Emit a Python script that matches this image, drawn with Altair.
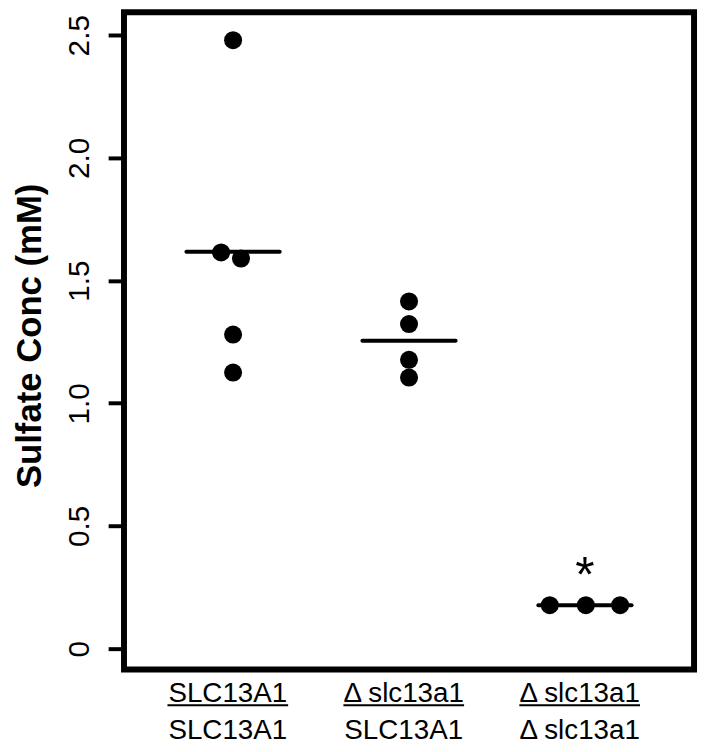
import altair as alt
import pandas as pd

# ---- data ----
groups = [1, 2, 3]
top_labels = ["SLC13A1", "Δ slc13a1", "Δ slc13a1"]
bottom_labels = ["SLC13A1", "SLC13A1", "Δ slc13a1"]

point_group = [1, 1, 1, 1, 1, 2, 2, 2, 2, 3, 3, 3]
point_value = [2.48, 1.615, 1.59, 1.28, 1.125, 1.415, 1.323, 1.177, 1.105, 0.177, 0.177, 0.177]
point_swarm = [0, -0.068, 0.045, 0, 0, 0, 0, 0, 0, -0.2, 0.005, 0.2]

star_group = [3]
star_value = [0.35]

y_ticks = [0, 0.5, 1.0, 1.5, 2.0, 2.5]

FONT = "Liberation Sans"

points_df = pd.DataFrame({"group": point_group, "value": point_value, "swarm": point_swarm})
labels_df = pd.DataFrame({"group": groups, "top": top_labels, "bottom": bottom_labels})
star_df = pd.DataFrame({"group": star_group, "value": star_value})

xscale = alt.Scale(domain=[0.38, 3.62], nice=False, zero=False)
yscale = alt.Scale(domain=[-0.085, 2.594], nice=False, zero=False)

yaxis = alt.Axis(
    values=y_ticks,
    labelExpr="datum.value == 0 ? '0' : format(datum.value, '.1f')",
    labelAngle=270, labelAlign="center", labelBaseline="alphabetic",
    labelFontSize=30, labelFont=FONT, labelColor="black", labelPadding=20,
    tickSize=16, tickWidth=4, tickColor="black",
    domain=False, grid=False,
    title="Sulfate Conc (mM)", titleFontSize=35, titleFontWeight="bold",
    titleFont=FONT, titleColor="black", titleAngle=270,
    titleX=-84, titleY=326, titleAlign="center", titleBaseline="alphabetic",
)

base_x = alt.X("xpos:Q", scale=xscale, axis=None)

points = alt.Chart(points_df).transform_calculate(
    xpos="datum.group + datum.swarm"
).mark_circle(size=330, color="black", opacity=1).encode(
    x=base_x,
    y=alt.Y("value:Q", scale=yscale, axis=yaxis),
)

means = alt.Chart(points_df).transform_aggregate(
    mean="mean(value)", groupby=["group"]
).transform_calculate(
    xl="datum.group - 0.265", xr="datum.group + 0.265"
).mark_rule(color="black", strokeWidth=4, strokeCap="round").encode(
    x=alt.X("xl:Q", scale=xscale, axis=None),
    x2="xr:Q",
    y=alt.Y("mean:Q", scale=yscale),
)

star = alt.Chart(star_df).transform_calculate(xpos="datum.group").mark_text(
    text="*", font=FONT, fontSize=50, color="black",
    baseline="middle", align="center", dy=14,
).encode(x=base_x, y=alt.Y("value:Q", scale=yscale))

lab = alt.Chart(labels_df).transform_calculate(
    xpos="datum.group - 0.03", ul="datum.group - 0.03 - 0.343", ur="datum.group - 0.03 + 0.343"
)

top_text = lab.mark_text(font=FONT, fontSize=28, color="black", align="center",
                         baseline="alphabetic").encode(
    x=base_x, y=alt.value(696), text="top:N")
bottom_text = lab.mark_text(font=FONT, fontSize=28, color="black", align="center",
                            baseline="alphabetic").encode(
    x=base_x, y=alt.value(733), text="bottom:N")
underline = lab.mark_rule(color="black", strokeWidth=2).encode(
    x=alt.X("ul:Q", scale=xscale, axis=None), x2="ur:Q", y=alt.value(699))

chart = alt.layer(means, points, star, top_text, bottom_text, underline).properties(
    width=575, height=663,
    autosize=alt.AutoSizeParams(type="none"),
    padding={"left": 117, "top": 1, "right": 6, "bottom": 78},
    background="white",
).configure_view(stroke="black", strokeWidth=6)

chart.save("out.html", embed_options={"renderer": "svg", "actions": False})
